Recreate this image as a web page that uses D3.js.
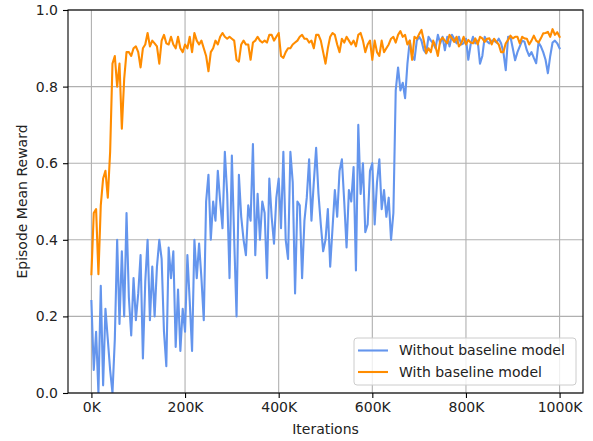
<!DOCTYPE html>
<html lang="en">
<head>
    <meta charset="UTF-8">
    <title>Episode Mean Reward</title>
    <script src="https://d3js.org/d3.v7.min.js"></script>
    <style>
        body { margin: 0; background: #fff; }
        svg { display: block; font-family: "DejaVu Sans", sans-serif; }
    </style>
</head>
<body>
    <div id="chart"></div>

    <script>
        // Iterations are logged every 5K steps, from 0 to 1000K
        const step = 5000;

        // Without baseline model (blue)
        const withoutBaseline = [
            0.24, 0.06, 0.16, 0.0, 0.28, 0.02, 0.22, 0.14, 0.06, 0.0,
            0.14, 0.40, 0.18, 0.37, 0.20, 0.47, 0.25, 0.15, 0.30, 0.19,
            0.26, 0.36, 0.09, 0.29, 0.40, 0.19, 0.33, 0.20, 0.33, 0.40,
            0.35, 0.16, 0.07, 0.38, 0.30, 0.37, 0.12, 0.27, 0.11, 0.22,
            0.16, 0.36, 0.24, 0.11, 0.40, 0.30, 0.39, 0.30, 0.19, 0.50,
            0.57, 0.40, 0.50, 0.45, 0.58, 0.50, 0.43, 0.63, 0.52, 0.30,
            0.62, 0.40, 0.20, 0.57, 0.46, 0.40, 0.36, 0.49, 0.45, 0.65,
            0.36, 0.52, 0.40, 0.50, 0.47, 0.30, 0.56, 0.46, 0.39, 0.51,
            0.56, 0.43, 0.63, 0.40, 0.35, 0.63, 0.55, 0.26, 0.50, 0.49,
            0.30, 0.45, 0.51, 0.61, 0.45, 0.55, 0.64, 0.52, 0.44, 0.37,
            0.40, 0.48, 0.33, 0.43, 0.53, 0.46, 0.58, 0.61, 0.50, 0.38,
            0.53, 0.50, 0.59, 0.32, 0.70, 0.52, 0.60, 0.42, 0.44, 0.58,
            0.60, 0.44, 0.55, 0.61, 0.48, 0.53, 0.46, 0.51, 0.40, 0.47,
            0.79, 0.85, 0.79, 0.81, 0.77, 0.86, 0.92, 0.88, 0.87, 0.92,
            0.93, 0.92, 0.895, 0.887, 0.93, 0.92, 0.913, 0.90, 0.935, 0.913,
            0.93, 0.895, 0.93, 0.905, 0.935, 0.925, 0.913, 0.93, 0.91, 0.913,
            0.925, 0.87, 0.91, 0.93, 0.913, 0.92, 0.86, 0.88, 0.93, 0.918,
            0.913, 0.92, 0.92, 0.915, 0.925, 0.913, 0.89, 0.843, 0.93, 0.93,
            0.90, 0.869, 0.89, 0.905, 0.92, 0.917, 0.895, 0.88, 0.89, 0.875,
            0.861, 0.915, 0.905, 0.89, 0.87, 0.835, 0.88, 0.915, 0.92, 0.913,
            0.90
        ];

        // With baseline model (orange)
        const withBaseline = [
            0.31, 0.47, 0.48, 0.31, 0.49, 0.56, 0.58, 0.51, 0.63, 0.86,
            0.88, 0.80, 0.86, 0.69, 0.82, 0.89, 0.89, 0.88, 0.90, 0.905,
            0.89, 0.85, 0.90, 0.91, 0.94, 0.905, 0.92, 0.913, 0.905, 0.86,
            0.92, 0.935, 0.913, 0.91, 0.93, 0.91, 0.90, 0.93, 0.90, 0.89,
            0.91, 0.90, 0.93, 0.89, 0.94, 0.92, 0.91, 0.92, 0.90, 0.88,
            0.84, 0.89, 0.90, 0.92, 0.91, 0.93, 0.94, 0.93, 0.925, 0.93,
            0.925, 0.92, 0.87, 0.865, 0.91, 0.92, 0.91, 0.91, 0.87, 0.915,
            0.92, 0.93, 0.92, 0.915, 0.92, 0.915, 0.935, 0.935, 0.92, 0.93,
            0.94, 0.88, 0.875, 0.89, 0.90, 0.90, 0.91, 0.915, 0.92, 0.93,
            0.935, 0.925, 0.925, 0.915, 0.92, 0.90, 0.935, 0.935, 0.92, 0.89,
            0.86, 0.90, 0.93, 0.94, 0.935, 0.91, 0.89, 0.925, 0.915, 0.93,
            0.92, 0.91, 0.92, 0.905, 0.935, 0.94, 0.92, 0.89, 0.91, 0.92,
            0.87, 0.92, 0.89, 0.88, 0.92, 0.89, 0.90, 0.91, 0.925, 0.93,
            0.915, 0.935, 0.945, 0.93, 0.935, 0.91, 0.92, 0.87, 0.93, 0.925,
            0.937, 0.948, 0.92, 0.887, 0.90, 0.89, 0.92, 0.905, 0.88, 0.92,
            0.928, 0.92, 0.913, 0.935, 0.926, 0.917, 0.93, 0.905, 0.913, 0.93,
            0.91, 0.922, 0.915, 0.913, 0.926, 0.91, 0.93, 0.926, 0.917, 0.925,
            0.926, 0.91, 0.925, 0.917, 0.91, 0.89, 0.89, 0.913, 0.922, 0.933,
            0.926, 0.93, 0.93, 0.913, 0.93, 0.926, 0.925, 0.91, 0.92, 0.933,
            0.92, 0.915, 0.926, 0.939, 0.94, 0.943, 0.93, 0.95, 0.935, 0.942,
            0.93
        ];

        const xTicks = [0, 200000, 400000, 600000, 800000, 1000000];
        const xTickLabels = ["0K", "200K", "400K", "600K", "800K", "1000K"];
        const yTicks = [0, 0.2, 0.4, 0.6, 0.8, 1.0];
        const yTickLabels = ["0.0", "0.2", "0.4", "0.6", "0.8", "1.0"];

        const seriesNames = ["Without baseline model", "With baseline model"];
        const seriesColors = ["#6495ed", "#ff8c00"];

        const width = 593;
        const height = 441;
        const margin = { top: 10, right: 10, bottom: 48, left: 68 };

        const svg = d3.select("#chart")
            .append("svg")
            .attr("width", width)
            .attr("height", height);

        const x = d3.scaleLinear()
            .domain([-50000, 1050000])
            .range([margin.left, width - margin.right]);

        const y = d3.scaleLinear()
            .domain([0, 1])
            .range([height - margin.bottom, margin.top]);

        // grid
        const grid = svg.append("g").attr("stroke", "#b0b0b0").attr("stroke-width", 1.1);
        grid.selectAll(".vgrid")
            .data(xTicks)
            .enter().append("line")
            .attr("x1", d => x(d)).attr("x2", d => x(d))
            .attr("y1", y(0)).attr("y2", y(1));
        grid.selectAll(".hgrid")
            .data(yTicks)
            .enter().append("line")
            .attr("x1", x.range()[0]).attr("x2", x.range()[1])
            .attr("y1", d => y(d)).attr("y2", d => y(d));

        // clip lines to the plot area
        svg.append("clipPath").attr("id", "plot-clip")
            .append("rect")
            .attr("x", x.range()[0]).attr("y", y(1))
            .attr("width", x.range()[1] - x.range()[0])
            .attr("height", y(0) - y(1));

        const series = [withoutBaseline, withBaseline];
        const line = d3.line()
            .x((d, i) => x(i * step))
            .y(d => y(d));

        svg.append("g")
            .attr("clip-path", "url(#plot-clip)")
            .selectAll("path")
            .data(series)
            .enter().append("path")
            .attr("d", d => line(d))
            .attr("fill", "none")
            .attr("stroke", (d, i) => seriesColors[i])
            .attr("stroke-width", 2.1)
            .attr("stroke-linejoin", "round")
            .attr("stroke-linecap", "square");

        // axes
        const xAxis = svg.append("g")
            .attr("transform", `translate(0,${y(0)})`)
            .call(d3.axisBottom(x)
                .tickValues(xTicks)
                .tickFormat((d, i) => xTickLabels[i])
                .tickSize(5)
                .tickPadding(4));

        const yAxis = svg.append("g")
            .attr("transform", `translate(${x.range()[0]},0)`)
            .call(d3.axisLeft(y)
                .tickValues(yTicks)
                .tickFormat((d, i) => yTickLabels[i])
                .tickSize(5)
                .tickPadding(5));

        [xAxis, yAxis].forEach(a => {
            a.select(".domain").remove();
            a.selectAll("line").attr("stroke", "#000").attr("stroke-width", 1.1);
            a.selectAll("text")
                .attr("font-family", "DejaVu Sans")
                .attr("font-size", 14)
                .attr("fill", "#222");
        });

        // spines
        svg.append("rect")
            .attr("x", x.range()[0]).attr("y", y(1))
            .attr("width", x.range()[1] - x.range()[0])
            .attr("height", y(0) - y(1))
            .attr("fill", "none")
            .attr("stroke", "#000")
            .attr("stroke-width", 1.1);

        // axis labels
        svg.append("text")
            .attr("x", (x.range()[0] + x.range()[1]) / 2)
            .attr("y", 434)
            .attr("text-anchor", "middle")
            .attr("font-size", 14)
            .attr("fill", "#222")
            .text("Iterations");

        svg.append("text")
            .attr("transform", `translate(22,${(y(0) + y(1)) / 2}) rotate(-90)`)
            .attr("text-anchor", "middle")
            .attr("dy", "0.35em")
            .attr("font-size", 14)
            .attr("fill", "#222")
            .text("Episode Mean Reward");

        // legend
        const legend = svg.append("g").attr("transform", "translate(354,338)");
        legend.append("rect")
            .attr("width", 222).attr("height", 47)
            .attr("rx", 3)
            .attr("fill", "#fff").attr("fill-opacity", 0.8)
            .attr("stroke", "#cccccc").attr("stroke-width", 1);

        const items = legend.selectAll(".item")
            .data(seriesNames)
            .enter().append("g")
            .attr("transform", (d, i) => `translate(0,${12.5 + i * 21.5})`);
        items.append("line")
            .attr("x1", 4).attr("x2", 34)
            .attr("stroke", (d, i) => seriesColors[i])
            .attr("stroke-width", 2.1);
        items.append("text")
            .attr("x", 45)
            .attr("dy", "0.35em")
            .attr("font-size", 14)
            .attr("fill", "#222")
            .text(d => d);
    </script>
</body>
</html>
